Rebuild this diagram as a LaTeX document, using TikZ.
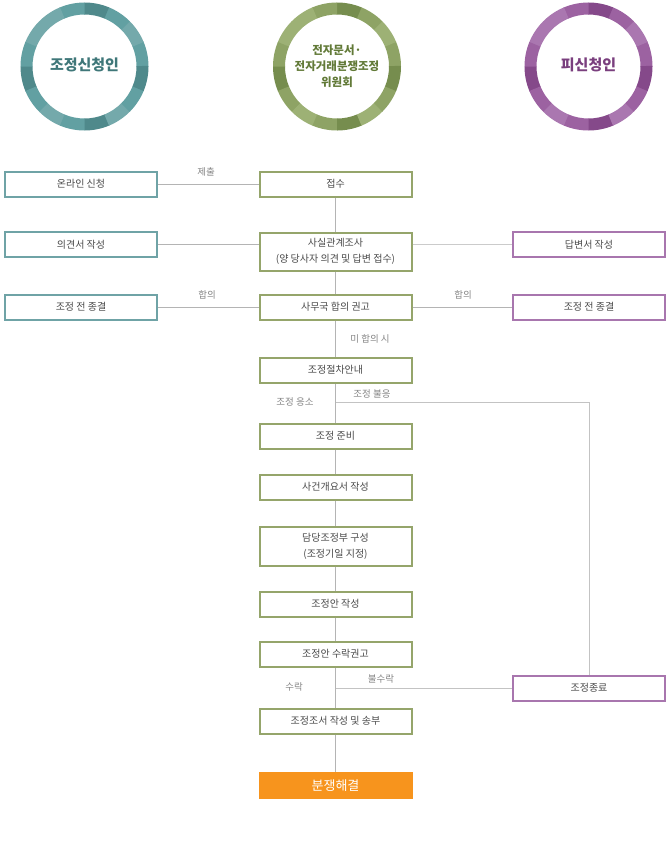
\documentclass[tikz,border=0pt]{standalone}
\usepackage{fontspec}
\setmainfont{Noto Sans CJK KR}
\definecolor{tealA}{HTML}{74A9AB}
\definecolor{tealB}{HTML}{62A0A2}
\definecolor{tealC}{HTML}{4F898B}
\definecolor{oliveA}{HTML}{9DB175}
\definecolor{oliveB}{HTML}{8EA365}
\definecolor{oliveC}{HTML}{768D4E}
\definecolor{purpA}{HTML}{AA77B0}
\definecolor{purpB}{HTML}{9C62A1}
\definecolor{purpC}{HTML}{85498A}
\definecolor{tealtxt}{HTML}{3F7779}
\definecolor{olivetxt}{HTML}{627A38}
\definecolor{purptxt}{HTML}{7A3F7E}
\definecolor{tealline}{HTML}{6FA3A6}
\definecolor{oliveline}{HTML}{95A56B}
\definecolor{purpline}{HTML}{A876AE}
\definecolor{boxtxt}{HTML}{4A4A4A}
\definecolor{lbltxt}{HTML}{858585}
\definecolor{connc}{HTML}{B4B4B4}
\definecolor{orangefill}{HTML}{F7941D}
\newcommand\ringdraw[3]{%
  \foreach \k/\t in {0/B,1/A,2/B,3/C,4/B,5/A,6/A,7/B,8/C,9/B,10/A,11/B,12/C,13/A,14/B,15/C}{%
    \pgfmathsetmacro\aa{\k*22.5}%
    \pgfmathsetmacro\bb{\k*22.5+23}%
    \fill[#3\t] ([shift={(#1,#2)}]\aa:64pt) arc[start angle=\aa, end angle=\bb, radius=64pt]
      -- ([shift={(#1,#2)}]\bb:52pt) arc[start angle=\bb, end angle=\aa, radius=52pt] -- cycle;
  }%
}
\tikzset{
  box/.style={draw, line width=2pt, fill=white, minimum width=152pt, minimum height=25pt,
    inner sep=0pt, align=center, text=boxtxt, font=\fontsize{10}{16}\selectfont},
  tbox/.style={box, draw=tealline},
  obox/.style={box, draw=oliveline},
  pbox/.style={box, draw=purpline},
  conn/.style={draw=connc, line width=1pt},
  lbl/.style={text=lbltxt, font=\fontsize{9.5}{11}\selectfont, inner sep=0pt},
}
\begin{document}
\begin{tikzpicture}[x=1pt,y=1pt]
\useasboundingbox (0,0) rectangle (670,-857);
% rings
\ringdraw{84.5}{-66.5}{teal}
\ringdraw{337}{-66.5}{olive}
\ringdraw{588.5}{-66.5}{purp}
\node[text=tealtxt, font=\fontsize{15}{18}\selectfont\bfseries] (appl) at (84.5,-65) {조정신청인};
\node[text=olivetxt, font=\fontsize{11.5}{16}\selectfont\bfseries, align=center] (comm) at (337,-66) {전자문서·\\전자거래분쟁조정\\위원회};
\node[text=purptxt, font=\fontsize{15}{18}\selectfont\bfseries] (resp) at (588.5,-65) {피신청인};
% boxes
\node[tbox] (online) at (81,-184) {온라인 신청};
\node[obox] (jeopsu) at (335.5,-184) {접수};
\node[tbox] (uigyeon) at (81,-244.5) {의견서 작성};
\node[obox, minimum height=38pt] (fact) at (335.5,-251.5) {사실관계조사\\(양 당사자 의견 및 답변 접수)};
\node[pbox] (dapbyeon) at (589,-244.5) {답변서 작성};
\node[tbox] (endL) at (81,-307) {조정 전 종결};
\node[obox] (office) at (335.5,-307) {사무국 합의 권고};
\node[pbox] (endR) at (589,-307) {조정 전 종결};
\node[obox] (guide) at (335.5,-370) {조정절차안내};
\node[obox] (prep) at (335.5,-436) {조정 준비};
\node[obox] (summary) at (335.5,-487) {사건개요서 작성};
\node[obox, minimum height=39pt] (panel) at (335.5,-546) {담당조정부 구성\\(조정기일 지정)};
\node[obox] (draft) at (335.5,-604) {조정안 작성};
\node[obox] (recommend) at (335.5,-654) {조정안 수락권고};
\node[pbox] (termin) at (589,-688) {조정종료};
\node[obox] (record) at (335.5,-721) {조정조서 작성 및 송부};
\node[draw=none, fill=orangefill, minimum width=154pt, minimum height=27pt, inner sep=0pt,
  text=white, font=\fontsize{13}{15}\selectfont] (resolve) at (335.5,-785.5) {분쟁해결};
% connectors
\draw[conn] (online) -- (jeopsu);
\draw[conn] (jeopsu) -- (fact);
\draw[conn] (uigyeon) -- (uigyeon -| fact.west);
\draw[conn, draw=connc!70] (fact.east |- dapbyeon) -- (dapbyeon);
\draw[conn] (fact) -- (office);
\draw[conn] (endL) -- (office);
\draw[conn] (office) -- (endR);
\draw[conn] (office) -- (guide);
\draw[conn] (guide) -- (prep);
\draw[conn] (prep) -- (summary);
\draw[conn] (summary) -- (panel);
\draw[conn] (panel) -- (draft);
\draw[conn] (draft) -- (recommend);
\draw[conn] (recommend) -- (record);
\draw[conn] (record) -- (resolve);
\coordinate (br1) at (335.5,-402);
\coordinate (br2) at (335.5,-688);
\draw[conn, draw=connc!80] (br1) -| (termin);
\draw[conn, draw=connc!80] (br2) -- (termin);
% labels
\node[lbl] (l1) at (206,-172) {제출};
\node[lbl] (l2) at (207,-295) {합의};
\node[lbl] (l3) at (463,-295) {합의};
\node[lbl] (l4) at (370,-339) {미 합의 시};
\node[lbl] (l5) at (295,-402) {조정 응소};
\node[lbl] (l6) at (372,-394) {조정 불응};
\node[lbl] (l7) at (294,-687) {수락};
\node[lbl] (l8) at (381,-679) {불수락};
\end{tikzpicture}
\end{document}
